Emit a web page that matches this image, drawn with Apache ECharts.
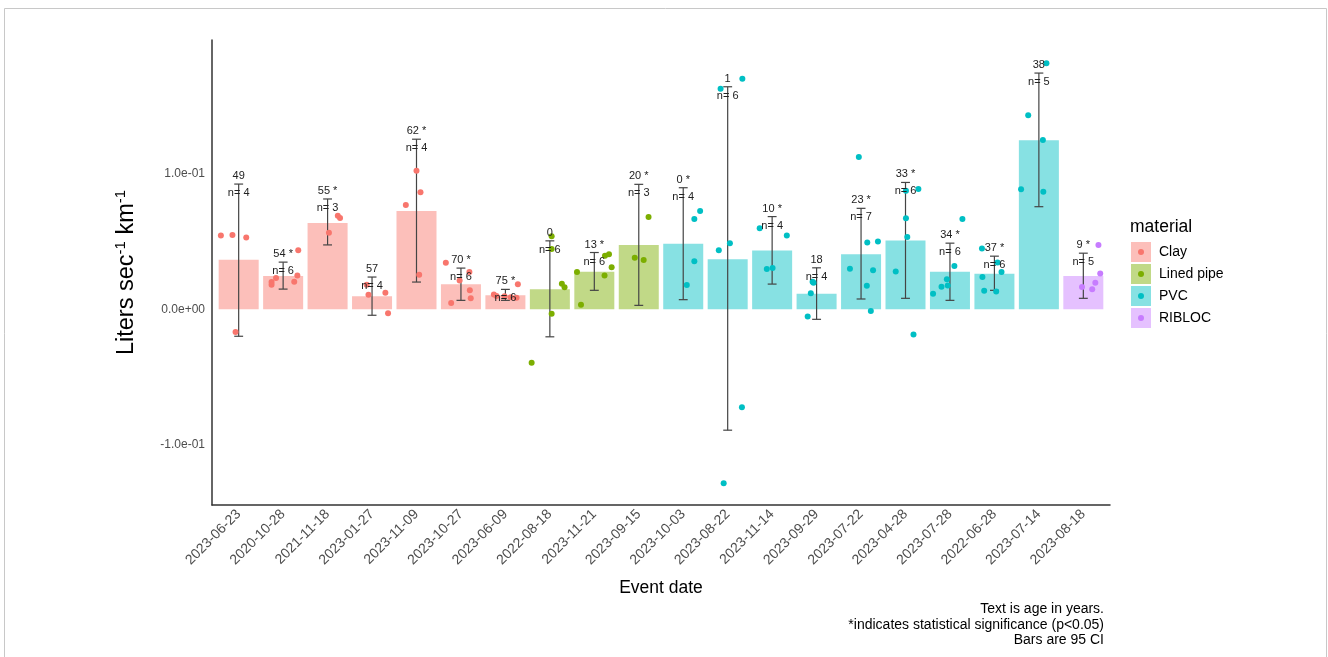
<!DOCTYPE html>
<html>
<head>
<meta charset="utf-8">
<script src="https://cdn.jsdelivr.net/npm/echarts@6/dist/echarts.min.js"></script>
<style>
html,body{margin:0;padding:0;background:#fff;}
#chart{width:1328px;height:657px;}
</style>
</head>
<body>
<div id="chart"></div>
<script>
const categories = ['2023-06-23','2020-10-28','2021-11-18','2023-01-27','2023-11-09','2023-10-27','2023-06-09','2022-08-18','2023-11-21','2023-09-15','2023-10-03','2023-08-22','2023-11-14','2023-09-29','2023-07-22','2023-04-28','2023-07-28','2022-06-28','2023-07-14','2023-08-18'];
const materials = ['Clay','Lined pipe','PVC','RIBLOC'];
const materialColors = ['#F8766D','#7CAE00','#00BFC4','#C77CFF'];
const barMaterial = [0,0,0,0,0,0,0,1,1,1,2,2,2,2,2,2,2,2,2,3];
const barMeans = [0.0365,0.0245,0.0637,0.0096,0.0726,0.0184,0.0103,0.0147,0.0277,0.0475,0.0483,0.0370,0.0434,0.0115,0.0407,0.0507,0.0277,0.0262,0.1248,0.0245];
const ciLow = [-0.0199,0.0149,0.0475,-0.0044,0.0201,0.0066,0.0066,-0.0203,0.0140,0.0029,0.0071,-0.0892,0.0186,-0.0074,0.0076,0.0081,0.0066,0.0140,0.0757,0.0081];
const ciHigh = [0.0924,0.0348,0.0814,0.0238,0.1255,0.0304,0.0147,0.0505,0.0419,0.0922,0.0897,0.1642,0.0684,0.0306,0.0745,0.0936,0.0488,0.0392,0.1743,0.0414];
const ageLabels = ['49','54 *','55 *','57','62 *','70 *','75 *','0','13 *','20 *','0 *','1','10 *','18','23 *','33 *','34 *','37 *','38','9 *'];
const nCounts = [4,6,3,4,4,6,6,6,6,3,4,6,4,4,7,6,6,6,5,5];
const pointValues = [
  [0.0544,0.0549,0.0529,-0.0167],
  [0.0201,0.0181,0.0230,0.0203,0.0250,0.0436],
  [0.0564,0.0691,0.0674],
  [0.0181,0.0108,0.0123,-0.0029],
  [0.0770,0.1022,0.0863,0.0255],
  [0.0343,0.0047,0.0213,0.0275,0.0140,0.0081],
  [0.0110,0.0098,0.0096,0.0088,0.0086,0.0184],
  [0.0539,0.0444,0.0189,0.0162,-0.0032,-0.0395],
  [0.0275,0.0034,0.0395,0.0407,0.0311,0.0250],
  [0.0681,0.0380,0.0363],
  [0.0667,0.0725,0.0355,0.0179],
  [0.1627,0.1701,0.0436,0.0488,-0.0723,-0.1284],
  [0.0598,0.0297,0.0304,0.0544],
  [0.0203,0.0195,0.0118,-0.0054],
  [0.1123,0.0493,0.0500,0.0299,0.0289,0.0174,-0.0012],
  [0.0875,0.0887,0.0672,0.0534,0.0279,-0.0186],
  [0.0667,0.0319,0.0221,0.0176,0.0167,0.0115],
  [0.0449,0.0346,0.0275,0.0238,0.0137,0.0132],
  [0.1816,0.1431,0.1250,0.0885,0.0868],
  [0.0475,0.0265,0.0196,0.0164,0.0147]
];
const pointJitter = [
  [-0.40,-0.14,0.17,-0.07],
  [-0.26,-0.26,-0.16,0.25,0.32,0.34],
  [0.03,0.23,0.28],
  [-0.12,-0.08,0.30,0.36],
  [-0.24,0.0,0.09,0.06],
  [-0.34,-0.22,-0.03,0.19,0.20,0.22],
  [-0.26,-0.20,-0.02,0.12,0.25,0.28],
  [0.04,0.04,0.27,0.33,0.04,-0.41],
  [-0.39,-0.30,0.24,0.33,0.39,0.23],
  [0.22,-0.09,0.11],
  [0.25,0.38,0.25,0.08],
  [-0.16,0.33,-0.20,0.05,0.32,-0.09],
  [-0.28,-0.12,0.01,0.33],
  [-0.09,-0.07,-0.13,-0.20],
  [-0.05,0.14,0.38,-0.25,0.27,0.13,0.22],
  [0.01,0.29,0.01,0.04,-0.22,0.18],
  [0.28,0.10,-0.07,-0.05,-0.19,-0.38],
  [-0.28,0.07,0.16,-0.27,-0.23,0.04],
  [0.17,-0.24,0.09,-0.40,0.10],
  [0.34,0.38,0.27,-0.03,0.20]
];
const yTicks = [-0.1, 0, 0.1];
const footnotes = ['Text is age in years.','*indicates statistical significance (p<0.05)','Bars are 95 CI'];

const FONT = '"Liberation Sans", Arial, sans-serif';
function hexA(hex, a){
  const r=parseInt(hex.slice(1,3),16), g=parseInt(hex.slice(3,5),16), b=parseInt(hex.slice(5,7),16);
  return 'rgba('+r+','+g+','+b+','+a+')';
}
function sci(v){
  if (v === 0) return '0.0e+00';
  const s = v.toExponential(1);
  const m = s.split('e');
  const e = parseInt(m[1],10);
  return m[0] + 'e' + (e<0?'-':'+') + String(Math.abs(e)).padStart(2,'0');
}

const barData = categories.map((c,i)=>[i, barMeans[i], barMaterial[i]]);
const errData = categories.map((c,i)=>[i, ciLow[i], ciHigh[i]]);

const scatterSeries = materials.map((m,mi)=>{
  const data = [];
  pointValues.forEach((vals,i)=>{
    if (barMaterial[i] !== mi) return;
    vals.forEach((v,k)=>data.push([i + pointJitter[i][k], v]));
  });
  return {
    name: m, type:'scatter', data, symbolSize:6, z:4,
    itemStyle:{color: materialColors[mi], opacity:1},
    silent:true
  };
});

const chart = echarts.init(document.getElementById('chart'), null, {renderer:'canvas'});

const legendGraphics = [];
legendGraphics.push({type:'text', x:1130, y:227, style:{text:'material', font:'17.5px '+FONT, fill:'#000', verticalAlign:'middle'}});
materials.forEach((m,mi)=>{
  const y = 242 + mi*22;
  legendGraphics.push({type:'rect', shape:{x:1131,y:y,width:20,height:20}, style:{fill:hexA(materialColors[mi],0.47)}});
  legendGraphics.push({type:'circle', shape:{cx:1141,cy:y+10,r:3}, style:{fill:materialColors[mi]}});
  legendGraphics.push({type:'text', x:1159, y:y+10, style:{text:m, font:'14px '+FONT, fill:'#000', verticalAlign:'middle'}});
});
const footGraphics = footnotes.map((t,k)=>({type:'text', x:1104, y:609.5+k*15.3, style:{text:t, font:'14px '+FONT, fill:'#000', align:'right', verticalAlign:'middle'}}));

const option = {
  animation:false,
  backgroundColor:'#fff',
  grid:{left:212, right:218, top:40, bottom:152, containLabel:false},
  xAxis:{
    type:'value', min:-0.6, max:19.6,
    name:'Event date', nameLocation:'middle', nameGap:74,
    nameTextStyle:{fontSize:17.5, color:'#000', fontFamily:FONT},
    axisLine:{show:true, onZero:false, lineStyle:{color:'#333', width:1.5}},
    axisTick:{show:false},
    splitLine:{show:false},
    axisLabel:{
      customValues: categories.map((c,i)=>i),
      formatter:(v)=>categories[Math.round(v)],
      rotate:45, margin:7, fontSize:14, color:'#4d4d4d', fontFamily:FONT
    }
  },
  yAxis:{
    type:'value', min:-0.1444, max:0.1987,
    name:'{t|Liters sec}{s|-1}{t| km}{s|-1}', nameLocation:'middle', nameGap:71,
    nameTextStyle:{color:'#000', fontFamily:FONT, rich:{t:{fontSize:23.5, fontFamily:FONT, color:'#000', lineHeight:28}, s:{fontSize:15, fontFamily:FONT, color:'#000', verticalAlign:'top', lineHeight:28}}},
    axisLine:{show:true, onZero:false, lineStyle:{color:'#333', width:1.5}},
    axisTick:{show:false},
    splitLine:{show:false},
    axisLabel:{customValues:yTicks, formatter:sci, fontSize:12, color:'#4d4d4d', margin:7, fontFamily:FONT}
  },
  series:[
    {
      type:'custom', z:1, silent:true,
      data:barData,
      encode:{x:0,y:1},
      renderItem:(params, api)=>{
        const i = api.value(0), v = api.value(1), m = api.value(2);
        const a = api.coord([i-0.45, v]);
        const b = api.coord([i+0.45, 0]);
        return {type:'rect', shape:{x:a[0], y:Math.min(a[1],b[1]), width:b[0]-a[0], height:Math.abs(b[1]-a[1])}, style:{fill:hexA(materialColors[m],0.47)}};
      }
    },
    {
      type:'custom', z:3, silent:true,
      data:errData,
      encode:{x:0,y:[1,2]},
      renderItem:(params, api)=>{
        const i = api.value(0), lo = api.value(1), hi = api.value(2);
        const pl = api.coord([i, lo]), ph = api.coord([i, hi]);
        const cl = api.coord([i-0.1, lo]), cr = api.coord([i+0.1, lo]);
        const st = {stroke:'#444', lineWidth:1.2};
        return {type:'group', children:[
          {type:'line', shape:{x1:pl[0],y1:pl[1],x2:ph[0],y2:ph[1]}, style:st},
          {type:'line', shape:{x1:cl[0],y1:pl[1],x2:cr[0],y2:pl[1]}, style:st},
          {type:'line', shape:{x1:cl[0],y1:ph[1],x2:cr[0],y2:ph[1]}, style:st}
        ]};
      }
    },
    ...scatterSeries,
    {
      type:'custom', z:5, silent:true,
      data:errData,
      encode:{x:0,y:[1,2]},
      renderItem:(params, api)=>{
        const idx = params.dataIndex;
        const i = api.value(0), hi = api.value(2);
        const ph = api.coord([i, hi]);
        return {type:'group', children:[
          {type:'text', x:ph[0], y:ph[1]-8, style:{text:ageLabels[idx], font:'11px '+FONT, fill:'#222', align:'center', verticalAlign:'middle'}},
          {type:'text', x:ph[0], y:ph[1]+9, style:{text:'n= '+nCounts[idx], font:'11px '+FONT, fill:'#222', align:'center', verticalAlign:'middle'}}
        ]};
      }
    }
  ],
  graphic:[
    {type:'rect', shape:{x:4.5,y:8.5,width:1322,height:660}, style:{fill:null, stroke:'#c8c8c8', lineWidth:1}, silent:true},
    ...legendGraphics,
    ...footGraphics
  ]
};
chart.setOption(option);
</script>
</body>
</html>
